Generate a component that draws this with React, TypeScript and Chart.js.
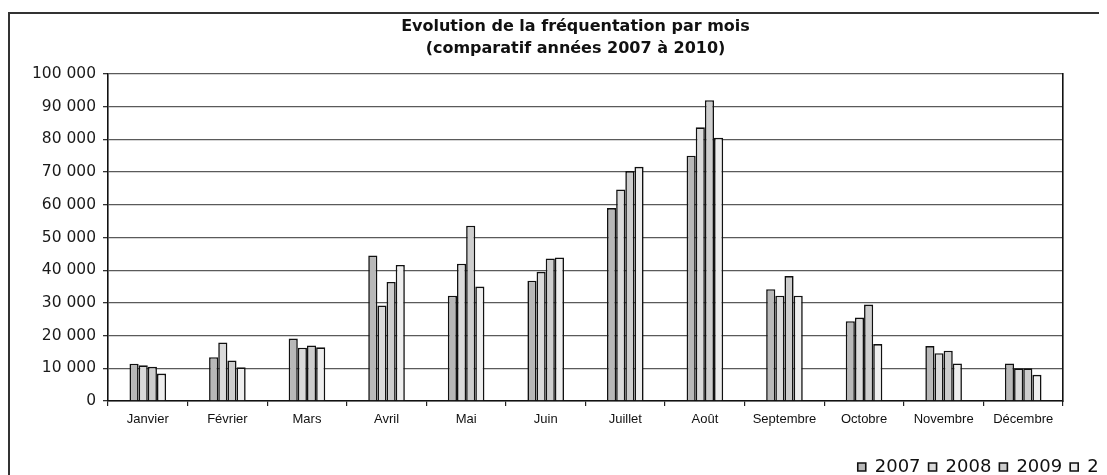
import React, { useEffect, useRef } from 'react';
import { Chart, registerables } from 'chart.js';

Chart.register(...registerables);

const months = ['Janvier', 'Février', 'Mars', 'Avril', 'Mai', 'Juin', 'Juillet', 'Août', 'Septembre', 'Octobre', 'Novembre', 'Décembre'];
const years = ['2007', '2008', '2009', '2010'];
const values2007 = [11400, 13400, 19100, 44500, 32200, 36800, 59000, 75000, 34200, 24400, 16800, 11500];
const values2008 = [10900, 17900, 16300, 29200, 42000, 39500, 64700, 83700, 32200, 25500, 14600, 10000];
const values2009 = [10500, 12400, 17000, 36400, 53600, 43600, 70300, 92000, 38200, 29500, 15400, 10000];
const values2010 = [8400, 10300, 16400, 41600, 35000, 43900, 71600, 80500, 32200, 17400, 11500, 8000];
const titleLines = ['Evolution de la fréquentation par mois', '(comparatif années 2007 à 2010)'];
const yMin = 0;
const yMax = 100000;
const yStep = 10000;

const seriesValues = [values2007, values2008, values2009, values2010];
const fills = ['#b8b8b8', '#dadada', '#cdcdcd', '#eeeeee'];

const fmt = (v: number) => String(Math.round(v)).replace(/\B(?=(\d{3})+(?!\d))/g, ' ');

export default function App() {
  const ref = useRef<HTMLCanvasElement>(null);
  useEffect(() => {
    document.documentElement.style.overflow = 'hidden';
    document.body.style.overflow = 'hidden';
    const chart = new Chart(ref.current as HTMLCanvasElement, {
      type: 'bar',
      data: {
        labels: months,
        datasets: years.map((y, i) => ({
          label: y,
          data: seriesValues[i],
          backgroundColor: fills[i],
          borderColor: '#111',
          borderWidth: 1.6,
          categoryPercentage: 0.46,
          barPercentage: 1,
        })),
      },
      options: {
        animation: false,
        responsive: false,
        maintainAspectRatio: false,
        layout: { padding: 0 },
        plugins: {
          title: {
            display: true,
            text: titleLines,
            color: '#111',
            font: { family: 'DejaVu Sans', size: 16, weight: 'bold', lineHeight: 1.35 },
            padding: { top: 2.2, bottom: 14.6 },
          },
          legend: {
            position: 'bottom',
            align: 'end',
            labels: {
              boxWidth: 8,
              boxHeight: 8,
              padding: 8,
              color: '#111',
              font: { family: 'DejaVu Sans', size: 18 },
            },
          },
          tooltip: { enabled: false },
        },
        scales: {
          x: {
            grid: { display: true, offset: true, drawOnChartArea: false, drawTicks: true, tickLength: 5, color: '#222', lineWidth: 1.2 },
            border: { display: true, color: '#111', width: 1.6 },
            ticks: { padding: 6, color: '#111', maxRotation: 0, autoSkip: false, font: { family: 'Liberation Sans', size: 13 } },
            afterFit: (s: any) => { s.height = 49; },
          },
          y: {
            min: yMin,
            max: yMax,
            ticks: { stepSize: yStep, padding: 7, color: '#1a1a1a', font: { family: 'DejaVu Sans', size: 15.5 }, callback: (v: any) => fmt(Number(v)) },
            grid: { color: '#5a5a5a', lineWidth: 1.3, drawTicks: true, tickLength: 5, tickColor: '#333' },
            border: { display: true, color: '#111', width: 1.6 },
            afterFit: (s: any) => { s.width = 98; },
          },
          y2: {
            position: 'right',
            min: yMin,
            max: yMax,
            ticks: { display: false },
            grid: { display: true, drawOnChartArea: false, drawTicks: false },
            border: { display: true, color: '#111', width: 1.6 },
            afterFit: (s: any) => { s.width = 78; },
          },
        },
      },
    });
    return () => chart.destroy();
  }, []);

  return (
    <div style={{ paddingTop: 4 }}>
      <div style={{ borderTop: '2px solid #333', borderLeft: '2px solid #333', width: 1140, height: 480, background: '#fff' }}>
        <canvas ref={ref} width={1131} height={472} style={{ display: 'block', width: 1131, height: 472 }} />
      </div>
    </div>
  );
}
